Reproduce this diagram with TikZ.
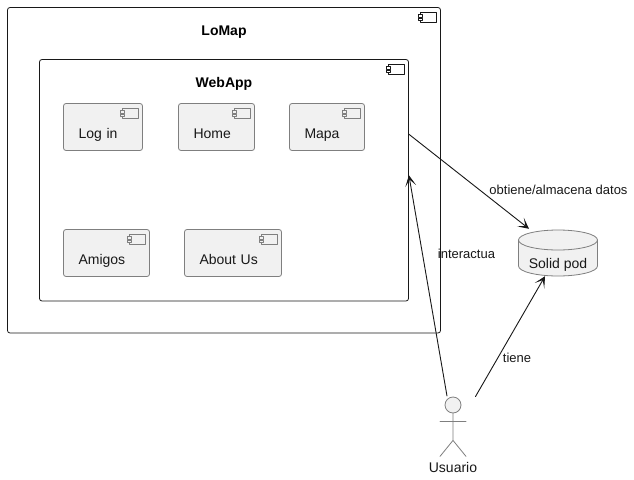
\documentclass[tikz,border=0pt]{standalone}
\usepackage{fontspec}
\setmainfont{Liberation Sans}
\usetikzlibrary{arrows.meta,calc,positioning}
\definecolor{umlInk}{HTML}{181818}
\definecolor{umlFill}{HTML}{F1F1F1}
\definecolor{umlLine}{HTML}{7F7F7F}
\begin{document}
\begin{tikzpicture}[x=1pt,y=-1pt,>={Stealth[length=11pt,width=11pt,inset=6.5pt]},line cap=round,line join=round]
\path[fill=white] (0,0) rectangle (634,479);
\tikzset{container/.style={draw=umlInk,fill=white,line width=0.8pt,rounded corners=2.5pt,inner sep=0pt,font=\fontsize{14}{16}\selectfont\bfseries},compbox/.style={draw=umlLine,fill=umlFill,line width=0.8pt,rounded corners=2.5pt,inner ysep=0pt,inner xsep=15pt,text height=34.5pt,text depth=12.5pt,align=left,font=\fontsize{14}{16}\selectfont,text=umlInk,text width=#1},edgeText/.style={font=\fontsize{13}{15}\selectfont,text=umlInk,inner sep=0pt},conn/.style={draw=umlInk,line width=0.9pt,->}}
\node[container,minimum width=433pt,text height=27.5pt,text depth=298pt] (loMap) at (224,170.25) {LoMap};
\node[container,minimum width=369pt,text height=28.2pt,text depth=213.3pt] (webApp) at (224,180.25) {WebApp};
\node[compbox=49pt] (logIn) at (103,127) {Log in};
\node[compbox=46pt] (home) at (216.5,127) {Home};
\node[compbox=45pt] (mapa) at (327,127) {Mapa};
\node[compbox=56pt] (amigos) at (106.5,253) {Amigos};
\node[compbox=67pt] (aboutUs) at (233,253) {About Us};
\foreach \n/\c/\f in {loMap/umlInk/white,webApp/umlInk/white,logIn/umlLine/umlFill,home/umlLine/umlFill,mapa/umlLine/umlFill,amigos/umlLine/umlFill,aboutUs/umlLine/umlFill} {
  \draw[draw=\c,fill=\f,line width=0.7pt] ($(\n.north east)+(-20.5,5)$) rectangle ($(\n.north east)+(-5,15)$);
  \draw[draw=\c,fill=\f,line width=0.7pt] ($(\n.north east)+(-22.5,7.5)$) rectangle ($(\n.north east)+(-18.5,10)$);
  \draw[draw=\c,fill=\f,line width=0.7pt] ($(\n.north east)+(-22.5,11)$) rectangle ($(\n.north east)+(-18.5,13.5)$);
}
\draw[draw=umlLine,fill=umlFill,line width=0.8pt] (518.5,240) arc[start angle=180,end angle=360,x radius=39.5,y radius=10] -- (597.5,266) arc[start angle=0,end angle=180,x radius=39.5,y radius=10] -- cycle;
\draw[draw=umlLine,line width=0.8pt] (518.5,240) arc[start angle=180,end angle=0,x radius=39.5,y radius=10];
\node[minimum width=79pt,inner sep=0pt,text height=38pt,text depth=8pt,font=\fontsize{14}{16}\selectfont,text=umlInk] (solidPod) at (558,253) {Solid pod};
\node[circle,draw=umlLine,fill=umlFill,line width=0.8pt,minimum size=16pt,inner sep=0pt] (usuario) at (453,405) {};
\draw[draw=umlLine,line width=0.8pt] (usuario.south) -- +(0,27) +(-13,8) -- +(13,8) (usuario.south)+(0,27) -- +(-13,43) (usuario.south)+(0,27) -- +(13,43);
\node[font=\fontsize{14}{16}\selectfont,text=umlInk,inner sep=0pt] (usuarioText) at (453,467) {Usuario};
\draw[conn] ([yshift=46pt]webApp.east) -- ([xshift=-29pt,yshift=1pt]solidPod.north);
\draw[conn] ([xshift=-6pt,yshift=9pt]usuario.center) -- ([yshift=5pt]webApp.east);
\draw[conn] ([xshift=22.5pt,yshift=8.5pt]usuario.center) -- ([xshift=-13pt]solidPod.south);
\node[edgeText] (obtieneText) at (558.5,190) {obtiene/almacena datos};
\node[edgeText] (interactuaText) at (466.5,254) {interactua};
\node[edgeText] (tieneText) at (517,358) {tiene};
\end{tikzpicture}
\end{document}
